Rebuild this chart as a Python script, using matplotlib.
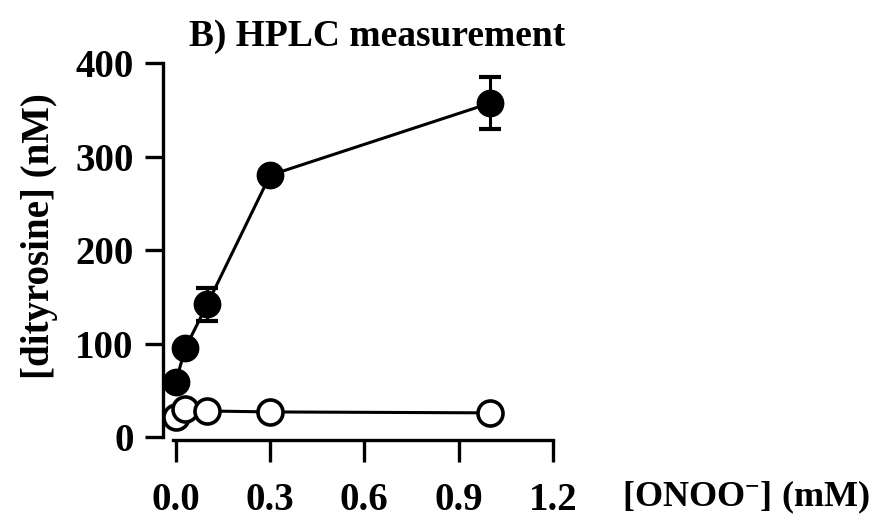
import matplotlib
matplotlib.use("Agg")
import matplotlib.pyplot as plt

onoo = [0.0, 0.03, 0.1, 0.3, 1.0]
filled_vals = [59, 95, 142, 280, 357]
filled_err = [0, 0, 18, 0, 28]
open_vals = [22, 30, 28, 27, 26]
xticks = [0.0, 0.3, 0.6, 0.9, 1.2]
xtick_labels = ["0.0", "0.3", "0.6", "0.9", "1.2"]
yticks = [0, 100, 200, 300, 400]

plt.rcParams['font.family'] = ['Liberation Serif', 'DejaVu Serif']
plt.rcParams['font.weight'] = 'bold'
plt.rcParams['mathtext.fontset'] = 'custom'
plt.rcParams['mathtext.rm'] = 'Liberation Serif:bold'
plt.rcParams['mathtext.bf'] = 'Liberation Serif:bold'
plt.rcParams['mathtext.it'] = 'Liberation Serif:bold'

fig = plt.figure(figsize=(8.76, 5.18), dpi=100)
ax = fig.add_axes([0.186, 0.1506, 0.445, 0.7278])

ax.errorbar(onoo, filled_vals, yerr=filled_err, fmt='-o', color='black',
            mfc='black', mec='black', ms=19, lw=2.2, elinewidth=2.2,
            capsize=8, capthick=3.0, zorder=3)
ax.plot(onoo, open_vals, '-o', color='black', mfc='white', mec='black',
        ms=18, mew=2.6, lw=2.2, zorder=4)

ax.set_xlim(-0.041, 1.2)
ax.set_ylim(-3, 400)
ax.spines['top'].set_visible(False)
ax.spines['right'].set_visible(False)
for s in ('left', 'bottom'):
    ax.spines[s].set_linewidth(2.4)
ax.spines['left'].set_bounds(0, 400)
ax.spines['bottom'].set_bounds(-0.01, 1.2)

ax.set_xticks(xticks)
ax.set_xticklabels(xtick_labels)
ax.set_yticks(yticks)
ax.tick_params(axis='y', direction='out', length=13, width=2.4, labelsize=28, pad=8)
ax.tick_params(axis='x', direction='out', length=16, width=2.4, labelsize=28, pad=14)
for lab in ax.get_xticklabels() + ax.get_yticklabels():
    lab.set_fontweight('bold')

ax.set_ylabel('[dityrosine] (nM)', fontsize=28, fontweight='bold')
ax.yaxis.set_label_coords(-0.27, 0.54)
fig.text(0.431, 0.93, 'B) HPLC measurement', fontsize=27, fontweight='bold',
         ha='center', va='center')
fig.text(0.851, 0.04, r'[ONOO$^{\bf{-}}$] (mM)', fontsize=26, fontweight='bold',
         ha='center', va='center')

fig.savefig('out.png', dpi=100)
